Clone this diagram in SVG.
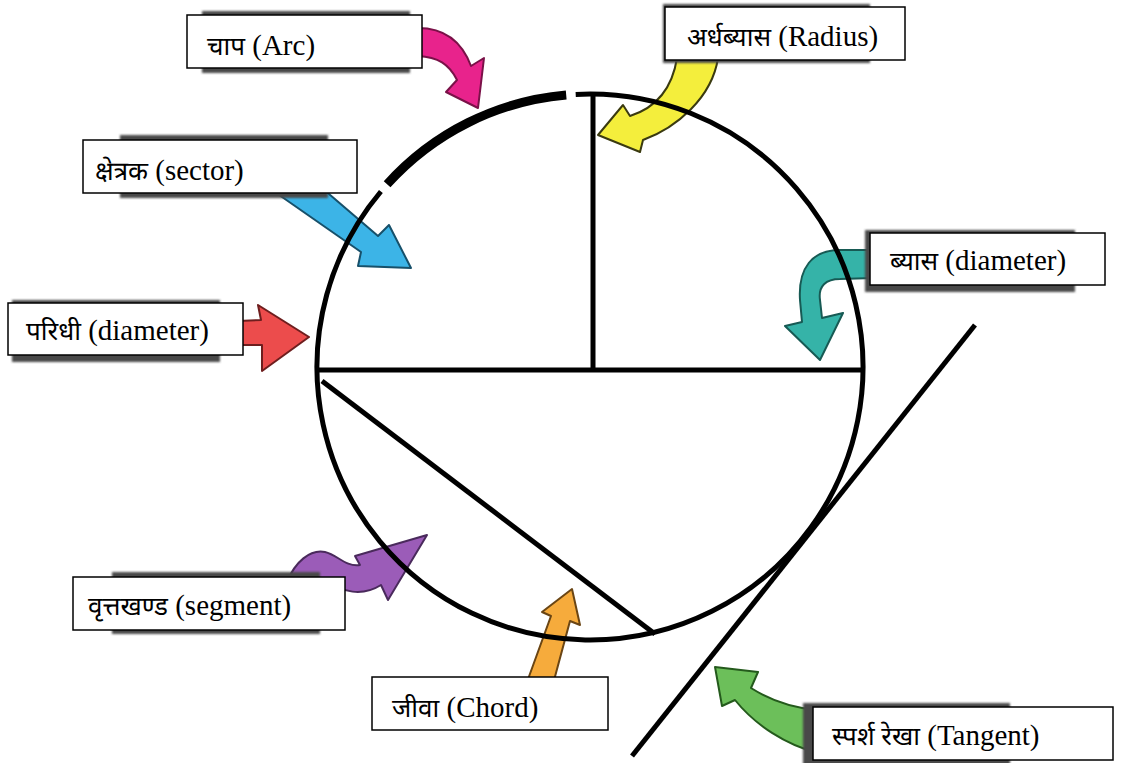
<svg xmlns="http://www.w3.org/2000/svg" width="1123" height="763" viewBox="0 0 1123 763">
<defs>
<style>
.geo{fill:none;stroke:#000;stroke-width:5;stroke-linecap:butt}
.thick{fill:none;stroke:#000;stroke-width:9}
.arr{stroke-width:2;stroke-linejoin:round}
.box{fill:#fff;stroke:#000;stroke-width:1.5}
.sh{fill:#4a4a4a;filter:url(#blur)}
text{fill:#000}
.dv{font-family:"Noto Sans Devanagari","Lohit Devanagari",sans-serif;font-size:26px}
.en{font-family:"Liberation Serif","DejaVu Serif",serif;font-size:29px}
</style>
<filter id="blur" x="-10%" y="-20%" width="120%" height="140%"><feGaussianBlur stdDeviation="1.2"/></filter>
</defs>
<rect width="1123" height="763" fill="#fff"/>

<g id="connectors">
<path class="arr" fill="#e8238c" stroke="#7a1148" d="M418 28 C445 28 462 42 471 66 L484 58 L478 108 L446 92 L457 80 C449 64 438 57 418 56 Z"/>
<path class="arr" fill="#f4ee3c" stroke="#3a3a10" d="M677 58 C672 90 655 108 630 116 L623 105 L598 135 L640 152 L643 140 C676 128 712 98 718 58 Z"/>
<path class="arr" fill="#3cb4e7" stroke="#17506a" d="M272 190 L361 252 L358 266 L411 268 L389 225 L378 236 L322 188 Z"/>
<path class="arr" fill="#35b3a8" stroke="#175a54" d="M874 250 L840 250 C812 250 798 268 800 300 L802 322 L785 326 L820 360 L843 313 L822 318 L820 300 C818 286 826 279 840 279 L874 278 Z"/>
<path class="arr" fill="#ec4c4c" stroke="#6e1e1e" d="M238 321 L261 320 L258 305 L309 337 L262 371 L262 345 L238 345 Z"/>
<path class="arr" fill="#9b5cb8" stroke="#4a2a5c" d="M287 582 C295 562 310 549 325 552 C338 555 345 567 360 565 L355 556 L427 535 L388 600 L381 585 C362 597 342 592 327 581 C316 574 306 580 296 592 Z"/>
<path class="arr" fill="#f6ab3c" stroke="#6a4514" d="M527 682 L551 616 L542 612 L572 589 L580 625 L570 621 L553 684 Z"/>
<path class="arr" fill="#6cbf5a" stroke="#245a1c" d="M818 710 C792 708 770 700 751 688 L758 672 L715 667 L722 706 L735 700 C755 725 786 745 818 753 Z"/>
</g>

<g id="circle-figure">
<path class="geo" d="M575.7 94.4 A273 273 0 1 1 380.9 191.5"/>
<path class="thick" d="M387.1 184.3 A273 273 0 0 1 566.2 95"/>
<line class="geo" x1="593" y1="95" x2="593" y2="370"/>
<line class="geo" x1="317" y1="370" x2="863" y2="370"/>
<line class="geo" x1="322" y1="381" x2="655" y2="634"/>
<line class="geo" x1="975" y1="325" x2="632" y2="756"/>
</g>

<g id="label-arc">
<rect class="sh" x="202" y="11" width="208" height="62"/>
<rect class="box" x="187" y="15" width="235" height="53"/>
<text x="207" y="55"><tspan class="dv">चाप</tspan><tspan class="en"> (Arc)</tspan></text>
</g>
<g id="label-radius">
<rect class="sh" x="663" y="4" width="207" height="59"/>
<rect class="box" x="665" y="7" width="240" height="53"/>
<text x="687" y="46"><tspan class="dv">अर्धब्यास</tspan><tspan class="en"> (Radius)</tspan></text>
</g>
<g id="label-sector">
<rect class="sh" x="120" y="135" width="208" height="63"/>
<rect class="box" x="83" y="140" width="274" height="53"/>
<text x="95" y="180"><tspan class="dv">क्षेत्रक</tspan><tspan class="en"> (sector)</tspan></text>
</g>
<g id="label-diameter">
<rect class="sh" x="865" y="230" width="210" height="62"/>
<rect class="box" x="870" y="233" width="235" height="52"/>
<text x="890" y="270"><tspan class="dv">ब्यास</tspan><tspan class="en"> (diameter)</tspan></text>
</g>
<g id="label-circumference">
<rect class="sh" x="12" y="300" width="208" height="62"/>
<rect class="box" x="8" y="303" width="235" height="52"/>
<text x="26" y="340"><tspan class="dv">परिधी</tspan><tspan class="en"> (diameter)</tspan></text>
</g>
<g id="label-segment">
<rect class="sh" x="112" y="572" width="208" height="62"/>
<rect class="box" x="73" y="577" width="272" height="53"/>
<text x="88" y="615"><tspan class="dv">वृत्तखण्ड</tspan><tspan class="en"> (segment)</tspan></text>
</g>
<g id="label-chord">
<rect class="box" x="372" y="677" width="236" height="53"/>
<text x="392" y="717"><tspan class="dv">जीवा</tspan><tspan class="en"> (Chord)</tspan></text>
</g>
<g id="label-tangent">
<rect class="sh" x="803" y="703" width="207" height="65"/>
<rect class="box" x="813" y="707" width="300" height="53"/>
<text x="832" y="745"><tspan class="dv">स्पर्श रेखा</tspan><tspan class="en"> (Tangent)</tspan></text>
</g>
</svg>
